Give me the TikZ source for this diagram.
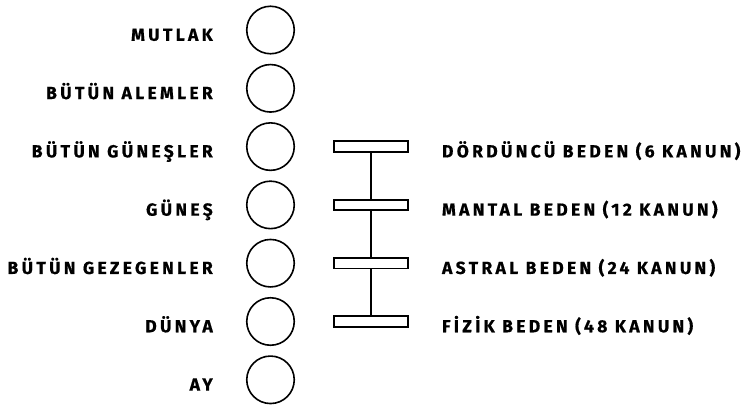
\documentclass[tikz,border=0pt]{standalone}
\usepackage{fontspec}
\setsansfont{Fira Sans}
\usetikzlibrary{positioning}

\begin{document}
\begin{tikzpicture}[x=1pt,y=-1pt,node distance=58.3pt,
                    plane/.style={circle,draw,line width=1.6pt,minimum size=47.5pt,inner sep=0pt},
                    body/.style={rectangle,draw,line width=1.8pt,minimum width=74pt,minimum height=10.5pt,inner sep=0pt},
                    lbl/.style={font=\sffamily\bfseries\fontsize{17.5}{17.5}\selectfont\addfontfeature{LetterSpace=19,FakeBold=0.6},
                                inner sep=0pt,text height=11.5pt,text depth=0pt}]
  \useasboundingbox (0,0) rectangle (748,405);

  % planes
  \node[plane] (1) at (270.5,30) {};
  \node[plane] (2) [below of=1] {};
  \node[plane] (3) [below of=2] {};
  \node[plane] (4) [below of=3] {};
  \node[plane] (5) [below of=4] {};
  \node[plane] (6) [below of=5] {};
  \node[plane] (7) [below of=6] {};

  \node[lbl] [left=33pt of 1, yshift=-5pt] {MUTLAK};
  \node[lbl] [left=33pt of 2, yshift=-5pt] {BÜTÜN ALEMLER};
  \node[lbl] [left=33pt of 3, yshift=-5pt] {BÜTÜN GÜNEŞLER};
  \node[lbl] [left=33pt of 4, yshift=-5pt] {GÜNEŞ};
  \node[lbl] [left=33pt of 5, yshift=-5pt] {BÜTÜN GEZEGENLER};
  \node[lbl] [left=33pt of 6, yshift=-5pt] {DÜNYA};
  \node[lbl] [left=33pt of 7, yshift=-5pt] {AY};

  % bodies
  \node[body] (b1) [right=38pt of 3] {};
  \node[body] (b2) [right=38pt of 4] {};
  \node[body] (b3) [right=38pt of 5] {};
  \node[body] (b4) [right=38pt of 6] {};

  \draw[line width=1.8pt] (b1) -- (b2) (b2) -- (b3) (b3) -- (b4);

  \node[lbl] [right=33pt of b1, yshift=-5pt] {DÖRDÜNCÜ BEDEN (6 KANUN)};
  \node[lbl] [right=33pt of b2, yshift=-5pt] {MANTAL BEDEN (12 KANUN)};
  \node[lbl] [right=33pt of b3, yshift=-5pt] {ASTRAL BEDEN (24 KANUN)};
  \node[lbl] [right=33pt of b4, yshift=-5pt] {FİZİK BEDEN (48 KANUN)};
\end{tikzpicture}
\end{document}
